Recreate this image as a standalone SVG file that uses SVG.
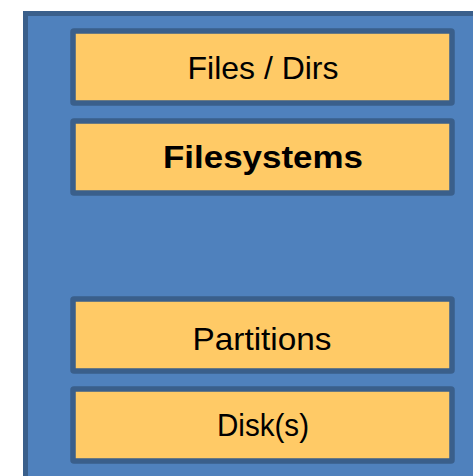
<svg xmlns="http://www.w3.org/2000/svg" width="473" height="476" viewBox="0 0 473 476">
  <style>
    .frame { fill: #4F81BD; stroke: #3A5F8B; stroke-width: 5; }
    .layer { fill: #FFCA66; stroke: #3A5F8B; stroke-width: 5.5; }
    .label { font-family: "Liberation Sans", Arial, sans-serif; font-size: 30.5px; fill: #000; text-anchor: middle; }
    .bold { font-weight: bold; }
  </style>
  <rect width="473" height="476" fill="#FFFFFF"/>
  <!-- enclosing stack -->
  <g id="stack">
    <rect class="frame" x="25.5" y="13.5" width="470" height="480"/>
  </g>
  <g id="files-dirs">
    <rect class="layer" x="73" y="31" width="379" height="72" rx="1"/>
    <text class="label" x="263" y="79" textLength="151" lengthAdjust="spacingAndGlyphs">Files / Dirs</text>
  </g>
  <g id="filesystems">
    <rect class="layer" x="73" y="121" width="379" height="72" rx="1"/>
    <text class="label bold" x="263" y="168" textLength="200" lengthAdjust="spacingAndGlyphs">Filesystems</text>
  </g>
  <g id="partitions">
    <rect class="layer" x="73" y="299" width="379" height="72" rx="1"/>
    <text class="label" x="262" y="350" textLength="139" lengthAdjust="spacingAndGlyphs">Partitions</text>
  </g>
  <g id="disks">
    <rect class="layer" x="73" y="389" width="379" height="72" rx="1"/>
    <text class="label" x="263" y="436" textLength="92" lengthAdjust="spacingAndGlyphs">Disk(s)</text>
  </g>
  <g id="connectors"/>
</svg>
